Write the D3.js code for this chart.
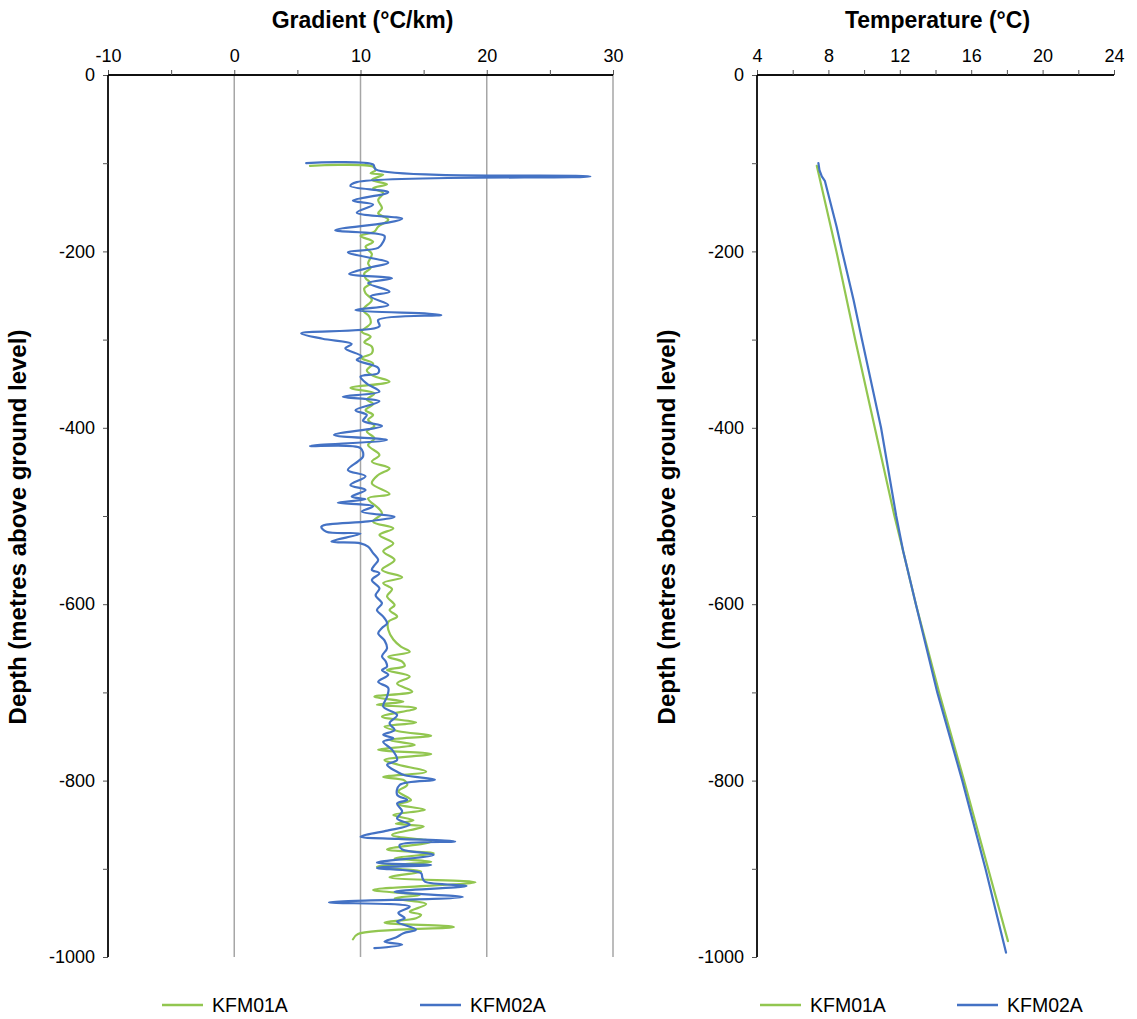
<!DOCTYPE html>
<html><head><meta charset="utf-8">
<script src="https://cdnjs.cloudflare.com/ajax/libs/d3/7.8.5/d3.min.js"></script>
<style>body{margin:0;background:#fff}svg{display:block}text{font-family:"Liberation Sans",Arial,sans-serif;fill:#000}</style>
</head><body>
<script>
// ---------- data ----------
const seriesNames = ["KFM01A", "KFM02A"];
const seriesColors = ["#92c650", "#4472c4"];
const gradTicks = [-10, 0, 10, 20, 30];
const tempTicks = [4, 8, 12, 16, 20, 24];
const depthTicks = [0, -200, -400, -600, -800, -1000];

// KFM01A gradient (depth m, °C/km)
const kfm01aGradDepth = [-103,-104,-108,-111.5,-113,-119,-124,-128.5,-134,-141.7,-151,-156.8,-164,-172,-177.6,-182.5,-189,-194.7,-203,-213.5,-219,-225,-230.5,-236,-242,-247.5,-255,-266.4,-274,-281.5,-291,-296.7,-303,-308,-315.5,-321,-327,-335,-341,-347.7,-355,-361,-368,-373,-380,-385.5,-391,-398,-404,-412,-419.5,-430.8,-438.4,-446,-453.5,-463,-475,-480,-491,-497,-506.4,-514,-521.5,-531,-540,-550,-561,-569.5,-576,-583,-591,-601,-606.6,-614,-620,-629,-640,-648,-654,-659.5,-665,-670,-674.6,-682,-690,-699,-704.9,-710.5,-714,-718,-727.5,-734,-738.8,-744,-749,-754,-759.6,-765,-769.8,-776.6,-782,-790,-796,-800,-805,-812,-822,-827,-833,-839,-845,-849,-852,-861.7,-869,-878,-882.4,-888,-892,-897.6,-903,-909.6,-915.3,-924,-929.7,-933.5,-940,-948.6,-952,-956,-961,-966,-974,-980];
const kfm01aGrad = [6.0,11.0,11.2,10.8,11.8,10.9,12.1,11.0,11.8,11.4,11.7,11.4,12.2,11.4,11.1,10.0,11.0,10.4,10.9,10.6,10.8,10.3,10.4,10.8,10.3,10.4,10.9,10.2,10.7,10.8,10.1,10.8,10.3,10.9,10.9,10.1,11.0,10.5,11.0,12.3,9.2,11.1,10.5,11.0,10.4,11.0,10.6,11.1,10.5,11.1,10.6,11.5,10.9,12.3,11.4,10.9,12.3,10.6,11.4,11.7,11.0,12.6,11.5,12.6,11.8,12.7,11.7,13.3,11.8,12.5,12.1,12.7,12.3,12.9,12.2,12.2,12.6,13.2,13.9,12.2,13.3,13.5,12.1,13.9,12.9,14.1,11.1,13.4,11.3,14.4,11.7,14.4,11.9,13.0,15.6,12.3,14.3,11.4,15.6,11.9,13.0,15.2,11.8,13.5,13.7,13.0,14.0,13.0,15.1,12.6,14.2,12.8,15.0,12.5,15.6,12.1,15.8,12.7,15.6,11.3,14.8,12.3,19.1,11.0,14.7,12.7,15.2,13.9,14.8,14.4,11.9,17.4,9.8,9.4];

// KFM02A gradient (depth m, °C/km)
const kfm02aGradDepth = [-100,-101.5,-107,-115,-121.5,-126,-133,-142.5,-147,-156,-163,-168,-176,-182.5,-189,-196,-201,-212.8,-218,-225.6,-230.5,-236,-245.7,-251,-260.8,-266.4,-272,-277.8,-285,-292.9,-299,-305,-310,-319,-323,-332,-338,-342,-350,-359,-364.7,-370,-380,-385.5,-392,-398,-408,-413.8,-420.6,-423,-432.7,-438,-447.8,-455,-464.9,-470.5,-478,-481,-485,-489,-495,-500.8,-506,-512,-517.8,-520,-529,-531,-534.8,-542,-550,-556,-561,-565,-572.5,-582,-590,-599,-606.6,-614,-621.7,-627,-633,-641,-650,-659,-665,-670.8,-674.6,-680,-688,-695,-705,-716,-725.6,-735,-742.6,-748,-752,-756,-765,-776.6,-782,-790,-794,-799,-805,-816,-822,-826,-835,-843,-850,-857,-863.6,-866,-869,-873,-878,-884,-893,-895.7,-899,-905,-910,-914.6,-919.5,-926,-932,-938,-943,-950,-956,-960,-969,-973,-978,-982.6,-986,-990];
const kfm02aGrad = [5.7,11.0,11.2,28.2,9.7,9.2,12.2,9.4,11.0,9.7,13.3,11.9,8.0,11.9,11.8,11.4,9.0,12.2,10.8,9.1,12.5,10.6,12.3,10.8,12.2,9.6,16.4,11.4,11.5,5.3,7.0,9.3,8.8,10.1,9.7,11.4,11.4,10.0,10.5,11.5,8.6,11.5,9.6,10.5,10.2,11.7,7.9,12.1,6.0,10.0,10.2,9.8,9.0,10.4,9.2,10.4,9.3,10.4,8.2,11.0,10.1,12.7,10.6,6.9,7.3,10.0,7.7,10.0,10.6,11.0,11.4,11.1,10.9,11.5,10.9,11.5,11.2,11.7,11.3,11.8,12.1,11.7,11.4,11.9,12.1,11.7,12.0,12.1,11.7,12.2,11.4,12.2,12.1,11.8,12.9,12.3,12.7,11.8,12.6,11.8,12.5,12.9,12.1,12.9,13.5,15.9,13.1,12.9,13.7,12.9,13.3,12.9,13.9,12.0,10.0,13.0,17.5,13.1,13.3,15.8,11.3,15.6,11.3,14.8,14.9,15.1,18.4,12.7,18.1,7.5,13.9,13.0,13.5,12.9,14.4,13.4,12.8,11.9,13.3,11.1];

// Temperature (depth m, °C)
const kfm01aTempDepth = [-103,-200,-300,-400,-500,-540,-600,-700,-800,-900,-982];
const kfm01aTemp = [7.35,8.45,9.5,10.6,11.7,12.19,12.9,14.2,15.6,16.95,18.06];
const kfm02aTempDepth = [-100,-108,-115,-120,-172,-200,-255,-300,-400,-500,-540,-600,-700,-800,-900,-995];
const kfm02aTemp = [7.44,7.5,7.63,7.8,8.46,8.77,9.41,9.88,10.95,11.8,12.19,12.9,14.1,15.5,16.8,17.95];

// ---------- drawing ----------
const W = 1137, H = 1019;
const svg = d3.select("body").append("svg").attr("width", W).attr("height", H);

const y = d3.scaleLinear().domain([0, -1000]).range([75, 957]);
const xg = d3.scaleLinear().domain([-10, 30]).range([108, 613]);
const xt = d3.scaleLinear().domain([4, 24]).range([757, 1114]);

const fmt = d => String(d);
const FONT = "Liberation Sans, Arial, sans-serif";

function panel(x, ticks, minorStep, title, gridVals) {
  const g = svg.append("g");
  g.selectAll(".grid").data(gridVals).enter().append("line")
    .attr("x1", d => x(d)).attr("x2", d => x(d))
    .attr("y1", y(0)).attr("y2", y(-1000))
    .attr("stroke", "#a6a6a6").attr("stroke-width", 1.5);
  const minor = d3.range(ticks[0] + minorStep, ticks[ticks.length - 1], minorStep * 2);
  const top = g.append("g").attr("transform", `translate(0,${y(0)})`);
  top.call(d3.axisTop(x).tickValues(ticks).tickFormat(fmt).tickSize(5).tickPadding(8));
  top.append("g").call(d3.axisTop(x).tickValues(minor).tickFormat("").tickSize(5));
  top.selectAll(".domain").attr("stroke", "#000").attr("stroke-width", 1.3).attr("d", `M${x.range()[0]},0H${x.range()[1]}`);
  top.selectAll("text").attr("font-size", 18).style("font-family", FONT);
  top.selectAll("line").attr("stroke", "#555");
  const left = g.append("g").attr("transform", `translate(${x.range()[0]},0)`);
  left.call(d3.axisLeft(y).tickValues(depthTicks).tickFormat(fmt).tickSize(5).tickPadding(8));
  left.append("g").call(d3.axisLeft(y).tickValues([-100,-300,-500,-700,-900]).tickFormat("").tickSize(5));
  left.selectAll(".domain").attr("stroke", "#000").attr("stroke-width", 1.3).attr("d", `M0,${y(0)}V${y(-1000)}`);
  left.selectAll("text").attr("font-size", 18).style("font-family", FONT);
  left.selectAll("line").attr("stroke", "#555");
  const cx = (x.range()[0] + x.range()[1]) / 2;
  svg.append("text").attr("x", cx + 2).attr("y", 28).attr("text-anchor", "middle")
    .attr("font-size", 23).attr("font-weight", "bold").text(title);
  const yx = x.range()[0] - 82;
  svg.append("text").attr("transform", `translate(${yx},${(y(0)+y(-1000))/2 + 11}) rotate(-90)`)
    .attr("text-anchor", "middle").attr("font-size", 24).attr("font-weight", "bold")
    .text("Depth (metres above ground level)");
}

panel(xg, gradTicks, 5, "Gradient (°C/km)", [0, 10, 20, 30]);
panel(xt, tempTicks, 2, "Temperature (°C)", []);

function drawSeries(xs, depths, vals, color, curve) {
  const pts = depths.map((d, i) => [xs(vals[i]), y(d)]);
  svg.append("path").datum(pts)
    .attr("d", d3.line().curve(curve))
    .attr("fill", "none").attr("stroke", color).attr("stroke-width", 2.2)
    .attr("stroke-linejoin", "round").attr("stroke-linecap", "round");
}
const cr = d3.curveCatmullRom.alpha(0.5);
drawSeries(xg, kfm01aGradDepth, kfm01aGrad, seriesColors[0], cr);
drawSeries(xg, kfm02aGradDepth, kfm02aGrad, seriesColors[1], cr);
drawSeries(xt, kfm01aTempDepth, kfm01aTemp, seriesColors[0], d3.curveLinear);
drawSeries(xt, kfm02aTempDepth, kfm02aTemp, seriesColors[1], d3.curveLinear);

// legends
const legendPos = [[162, 420], [760, 957]];
legendPos.forEach(pos => {
  pos.forEach((lx, i) => {
    svg.append("line").attr("x1", lx).attr("x2", lx + 41).attr("y1", 1005).attr("y2", 1005)
      .attr("stroke", seriesColors[i]).attr("stroke-width", 2.5);
    svg.append("text").attr("x", lx + 50).attr("y", 1012).attr("font-size", 19.5)
      .text(seriesNames[i]);
  });
});
</script>
</body></html>
